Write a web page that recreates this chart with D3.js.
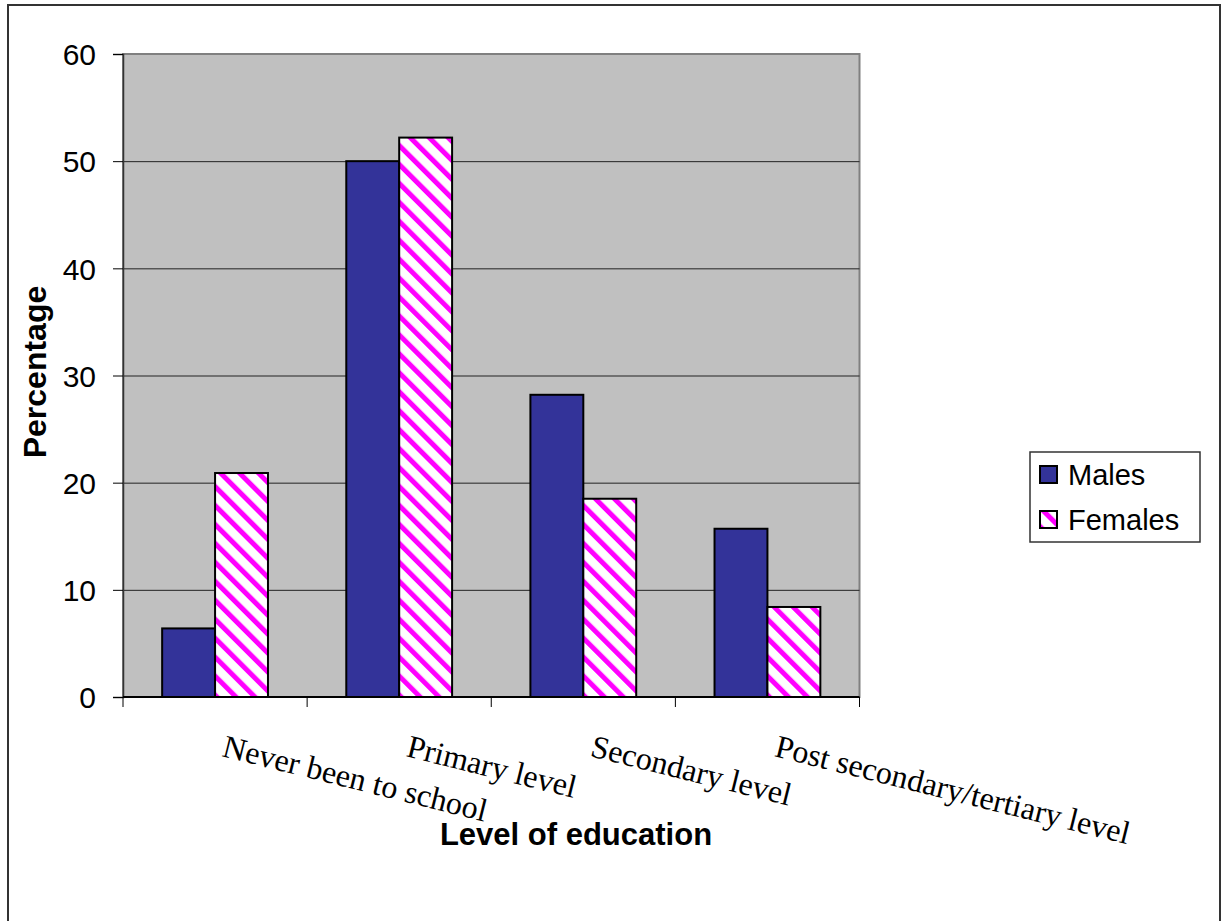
<!DOCTYPE html>
<html>
<head>
<meta charset="utf-8">
<script src="https://cdn.jsdelivr.net/npm/d3@7"></script>
<style>
	body { margin: 0; background: #fff; }
	svg { display: block; }
</style>
</head>
<body>
<div class="container"></div>
<script>
// chart data
var categories = ['Never been to school', 'Primary level', 'Secondary level', 'Post secondary/tertiary level'];
var seriesNames = ['Males', 'Females'];
var males = [6.4, 50.0, 28.2, 15.7];
var females = [20.9, 52.2, 18.5, 8.4];
var yTicks = [0, 10, 20, 30, 40, 50, 60];

var sans = '"Liberation Sans", Arial, sans-serif';
var serif = '"Liberation Serif", "Times New Roman", serif';

var svg = d3.select('.container')
	.append('svg')
	.attr('width', 1230)
	.attr('height', 921);

// hatch pattern for females
var defs = svg.append('defs');
var pat = defs.append('pattern')
	.attr('id', 'hatch')
	.attr('patternUnits', 'userSpaceOnUse')
	.attr('width', 13.4)
	.attr('height', 13.4)
	.attr('patternTransform', 'rotate(-45)');
pat.append('rect').attr('width', 13.4).attr('height', 13.4).attr('fill', '#fff');
pat.append('rect').attr('width', 5).attr('height', 13.4).attr('fill', '#ff00ff');

// outer frame
svg.append('rect')
	.attr('x', 8).attr('y', 5)
	.attr('width', 1212).attr('height', 930)
	.attr('fill', '#fff')
	.attr('stroke', '#333')
	.attr('stroke-width', 2);

var plot = { left: 123, right: 859.5, top: 54, bottom: 697 };

var y = d3.scaleLinear().domain([0, 60]).range([plot.bottom, plot.top]);
var x0 = d3.scaleBand().domain(categories).range([plot.left, plot.right]).padding(0);
var x1 = d3.scaleBand().domain(seriesNames).range([0, x0.bandwidth()]).paddingInner(0).paddingOuter(0.74);

// plot area
svg.append('rect')
	.attr('x', plot.left).attr('y', plot.top)
	.attr('width', plot.right - plot.left).attr('height', plot.bottom - plot.top)
	.attr('fill', '#c0c0c0')
	.attr('stroke', '#808080')
	.attr('stroke-width', 2);

// gridlines
svg.append('g')
	.selectAll('line')
	.data(yTicks.filter(d => d > 0 && d < 60))
	.enter().append('line')
	.attr('x1', plot.left).attr('x2', plot.right)
	.attr('y1', d => y(d) + 0.5).attr('y2', d => y(d) + 0.5)
	.attr('stroke', '#222')
	.attr('stroke-width', 1);

// bars
var data = categories.map((c, i) => ({ cat: c, vals: [
	{ name: 'Males', v: males[i] },
	{ name: 'Females', v: females[i] }
]}));

var groups = svg.append('g').selectAll('g')
	.data(data).enter().append('g')
	.attr('transform', d => 'translate(' + x0(d.cat) + ',0)');

groups.selectAll('rect')
	.data(d => d.vals).enter().append('rect')
	.attr('x', d => x1(d.name))
	.attr('y', d => y(d.v))
	.attr('width', x1.bandwidth())
	.attr('height', d => plot.bottom - y(d.v))
	.attr('fill', d => d.name == 'Males' ? '#333399' : 'url(#hatch)')
	.attr('stroke', '#000')
	.attr('stroke-width', 2);

// y axis
var yAxis = svg.append('g')
	.attr('transform', 'translate(' + plot.left + ',0)')
	.call(d3.axisLeft(y).tickValues(yTicks).tickSize(10).tickPadding(17));
yAxis.select('.domain').attr('stroke', '#333').attr('stroke-width', 1.5);
yAxis.selectAll('.tick line').attr('stroke', '#000');
yAxis.selectAll('.tick text')
	.attr('font-family', sans).attr('font-size', 30).attr('fill', '#000').attr('dy', '0.36em');

// x axis
var xAxis = svg.append('g')
	.attr('transform', 'translate(0,' + plot.bottom + ')');
xAxis.append('line')
	.attr('x1', plot.left).attr('x2', plot.right)
	.attr('stroke', '#000').attr('stroke-width', 2);
var bounds = categories.map(c => x0(c)).concat([plot.right]);
xAxis.selectAll('.tk')
	.data(bounds).enter().append('line')
	.attr('class', 'tk')
	.attr('x1', d => d).attr('x2', d => d)
	.attr('y1', 0).attr('y2', 10)
	.attr('stroke', '#000');

// rotated category labels
svg.append('g').selectAll('text')
	.data(categories).enter().append('text')
	.attr('transform', d => 'translate(' + (x0(d) + x0.bandwidth() / 2 + 6) + ',756) rotate(14)')
	.attr('font-family', serif)
	.attr('font-size', 32)
	.attr('fill', '#000')
	.text(d => d);

// axis titles
svg.append('text')
	.attr('transform', 'translate(46,372) rotate(-90)')
	.attr('text-anchor', 'middle')
	.attr('font-family', sans).attr('font-weight', 'bold').attr('font-size', 32)
	.text('Percentage');

svg.append('text')
	.attr('x', 576).attr('y', 845)
	.attr('text-anchor', 'middle')
	.attr('font-family', sans).attr('font-weight', 'bold').attr('font-size', 31)
	.text('Level of education');

// legend
var legend = svg.append('g').attr('transform', 'translate(1030,452)');
legend.append('rect')
	.attr('width', 170).attr('height', 90)
	.attr('fill', '#fff').attr('stroke', '#333').attr('stroke-width', 1.5);
var items = legend.selectAll('g.item')
	.data(seriesNames).enter().append('g')
	.attr('class', 'item')
	.attr('transform', (d, i) => 'translate(10,' + (14 + i * 45) + ')');
items.append('rect')
	.attr('width', 17).attr('height', 17)
	.attr('fill', d => d == 'Males' ? '#333399' : 'url(#hatch)')
	.attr('stroke', '#000').attr('stroke-width', 2);
items.append('text')
	.attr('x', 28).attr('y', 19)
	.attr('font-family', sans).attr('font-size', 29)
	.text(d => d);
</script>
</body>
</html>
